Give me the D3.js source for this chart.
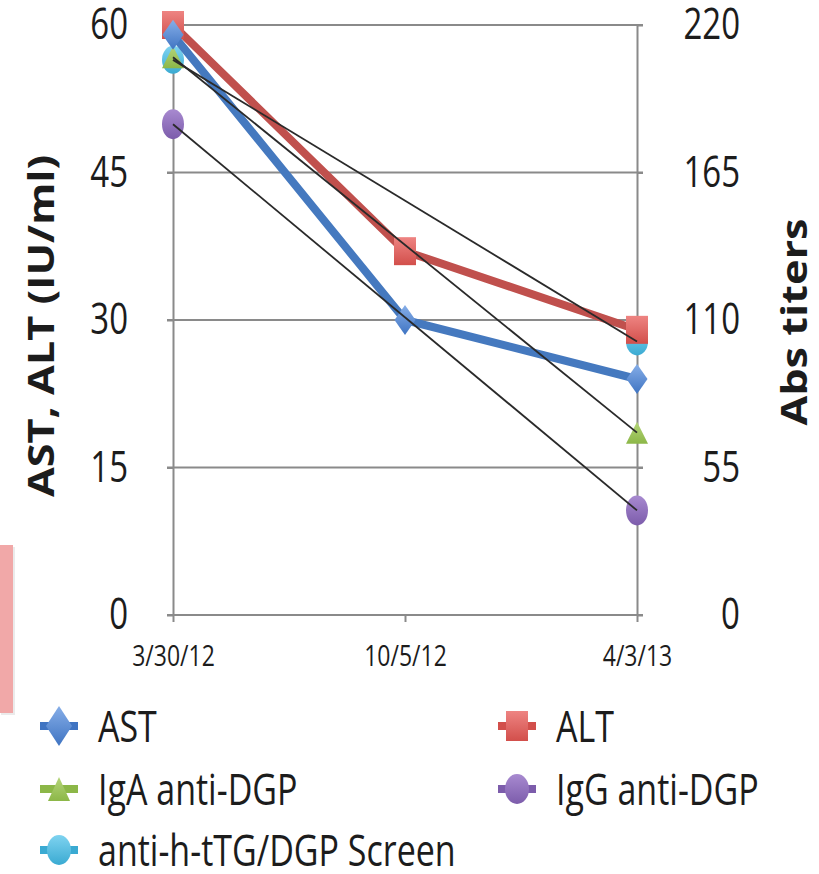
<!DOCTYPE html>
<html lang="en">
<head>
    <meta charset="UTF-8">
    <script src="https://d3js.org/d3.v7.min.js"></script>
    <style>
        body{ margin:0; background:#fff; }
        text{ font-family:'Open Sans', sans-serif; fill:#1c1c1c; }
    </style>
    <title>AST ALT titers</title>
</head>
<body>
    <div class="canvas"></div>
</body>
<script>
    // data
    const dates = ['3/30/12','10/5/12','4/3/13'];
    const ast = [59, 30, 24];
    const alt = [60, 37, 29];
    const igaDgp = [208, null, 68];
    const iggDgp = [183, null, 39];
    const screenTtg = [207, null, 102];
    const leftTicks = [0, 15, 30, 45, 60];
    const rightTicks = [0, 55, 110, 165, 220];

    const width = 819;
    const height = 874;
    const [x0, x1, yTop, yBot] = [173, 637, 25, 615];
    const sy = 1.3; // the picture is stretched vertically

    const svg = d3.select('.canvas')
                    .append('svg')
                    .attr('width',width)
                    .attr('height',height);

    const x = d3.scalePoint().domain(dates).range([x0,x1]);
    const yL = d3.scaleLinear().domain([0,60]).range([yBot,yTop]);
    const yR = d3.scaleLinear().domain([0,220]).range([yBot,yTop]);

    // little pink block at the left edge
    svg.append('rect').attr('x',1).attr('y',547).attr('width',14).attr('height',168)
        .attr('fill','#000').attr('opacity',0.08);
    svg.append('rect').attr('x',0).attr('y',545).attr('width',13).attr('height',168)
        .attr('fill','#f1a8a8');

    // horizontal grid
    svg.append('g').selectAll('line')
        .data(leftTicks.filter(d=>d>0))
        .enter().append('line')
        .attr('x1',167).attr('x2',643)
        .attr('y1',d=>yL(d)).attr('y2',d=>yL(d))
        .attr('stroke','#8a8a8a').attr('stroke-width',2);

    const axisStyle = g => {
        g.selectAll('path,line').attr('stroke','#8a8a8a').attr('stroke-width',2);
    };

    const leftG = svg.append('g').attr('transform',`translate(${x0},0)`)
        .call(d3.axisLeft(yL).tickValues(leftTicks).tickSizeInner(6).tickSizeOuter(0))
        .call(axisStyle);
    leftG.selectAll('text')
        .attr('x',-45).attr('dy','0.32em')
        .attr('transform',`scale(1,${sy})`)
        .style('font-size','33px').attr('fill','#1c1c1c');

    const rightG = svg.append('g').attr('transform',`translate(${x1},0)`)
        .call(d3.axisRight(yR).tickValues(rightTicks).tickSizeInner(6).tickSizeOuter(0))
        .call(axisStyle);
    rightG.selectAll('text')
        .attr('x',103).attr('dy','0.32em').attr('text-anchor','end')
        .attr('transform',`scale(1,${sy})`)
        .style('font-size','33px').attr('fill','#1c1c1c');

    const bottomG = svg.append('g').attr('transform',`translate(0,${yBot})`)
        .call(d3.axisBottom(x).tickSizeInner(7).tickSizeOuter(0))
        .call(axisStyle);
    bottomG.select('.domain').attr('d',`M167,0H643`);
    bottomG.selectAll('text')
        .attr('y',41/sy).attr('dy','0.35em')
        .attr('transform',`scale(1,${sy})`)
        .style('font-size','23px').attr('fill','#1c1c1c');

    // axis titles
    svg.append('text')
        .attr('transform',`translate(54,326) rotate(-90) scale(1.2,1)`)
        .attr('text-anchor','middle')
        .style('font-size','36px').style('font-weight','bold')
        .text('AST, ALT (IU/ml)');
    svg.append('text')
        .attr('transform',`translate(807,322) rotate(-90) scale(1.2,1)`)
        .attr('text-anchor','middle')
        .style('font-size','36px').style('font-weight','bold')
        .text('Abs titers');

    // marker shapes
    const shapes = {
        diamond:(w,h)=>`M0,${-h/2}L${w/2},0L0,${h/2}L${-w/2},0Z`,
        square:(w,h)=>`M${-w/2},${-h/2}H${w/2}V${h/2}H${-w/2}Z`,
        triangle:(w,h)=>`M0,${-h/2}L${w/2},${h/2}H${-w/2}Z`,
        circle:(w,h)=>`M${-w/2},0A${w/2},${h/2} 0 1,0 ${w/2},0A${w/2},${h/2} 0 1,0 ${-w/2},0Z`
    };

    const series = [
        {id:'ast', name:'AST', values:ast, y:yL, line:'#4579bf', top:'#86aee8', bot:'#3f74c2', shape:'diamond', w:21, h:30},
        {id:'alt', name:'ALT', values:alt, y:yL, line:'#c0504d', top:'#ee8482', bot:'#d24f4b', shape:'square', w:22, h:28},
        {id:'iga', name:'IgA anti-DGP', values:igaDgp, y:yR, line:'#2a2a2a', top:'#b5d57a', bot:'#8cb748', shape:'triangle', w:22, h:22},
        {id:'igg', name:'IgG anti-DGP', values:iggDgp, y:yR, line:'#2a2a2a', top:'#a88ad0', bot:'#7c5cab', shape:'circle', w:22, h:30},
        {id:'scr', name:'anti-h-tTG/DGP Screen', values:screenTtg, y:yR, line:'#2a2a2a', top:'#7fd3f0', bot:'#3aaad2', shape:'circle', w:22, h:28}
    ];

    // soft gradients like the spreadsheet markers
    const defs = svg.append('defs');
    series.forEach(s => {
        const grad = defs.append('linearGradient').attr('id','g-'+s.id)
            .attr('x1',0).attr('y1',0).attr('x2',0).attr('y2',1);
        grad.append('stop').attr('offset','0%').attr('stop-color',s.top);
        grad.append('stop').attr('offset','100%').attr('stop-color',s.bot);
    });

    const pts = s => dates.map((d,i)=>({d:d, v:s.values[i]})).filter(p=>p.v!=null);

    const drawMarkers = s => {
        svg.append('g').selectAll('path')
            .data(pts(s))
            .enter().append('path')
            .attr('d',shapes[s.shape](s.w,s.h))
            .attr('transform',p=>`translate(${x(p.d)},${s.y(p.v)})`)
            .attr('fill',`url(#g-${s.id})`);
    };
    const drawLine = (s,w) => {
        const line = d3.line().x(p=>x(p.d)).y(p=>s.y(p.v));
        svg.append('path')
            .attr('d',line(pts(s)))
            .attr('fill','none')
            .attr('stroke',s.line)
            .attr('stroke-width',w)
            .attr('stroke-linejoin','round');
    };

    const [sAst, sAlt, sIga, sIgg, sScr] = series;
    drawMarkers(sScr);
    drawMarkers(sIgg);
    drawMarkers(sIga);
    drawLine(sAlt,8);
    drawMarkers(sAlt);
    drawLine(sAst,8);
    drawMarkers(sAst);
    [sIga, sIgg, sScr].forEach(s => drawLine(s,1.8));

    // legend
    const legendPos = [[59,726],[517,726],[59,789],[517,789],[59,850]];
    const legendSize = {diamond:[26,40], square:[22,30], triangle:[22,24], circle:[24,30]};
    const legend = svg.append('g').selectAll('g')
        .data(series)
        .enter().append('g')
        .attr('transform',(s,i)=>`translate(${legendPos[i][0]},${legendPos[i][1]})`);
    legend.append('rect')
        .attr('x',-19).attr('y',-4).attr('width',38).attr('height',8)
        .attr('fill',s=>s.bot);
    legend.append('path')
        .attr('d',s=>shapes[s.shape](legendSize[s.shape][0],legendSize[s.shape][1]))
        .attr('fill',s=>`url(#g-${s.id})`);
    legend.append('text')
        .attr('x',39).attr('y',0).attr('dy','0.36em')
        .attr('transform',`scale(1,${sy})`)
        .style('font-size','34px')
        .text(s=>s.name);
</script>
</html>
